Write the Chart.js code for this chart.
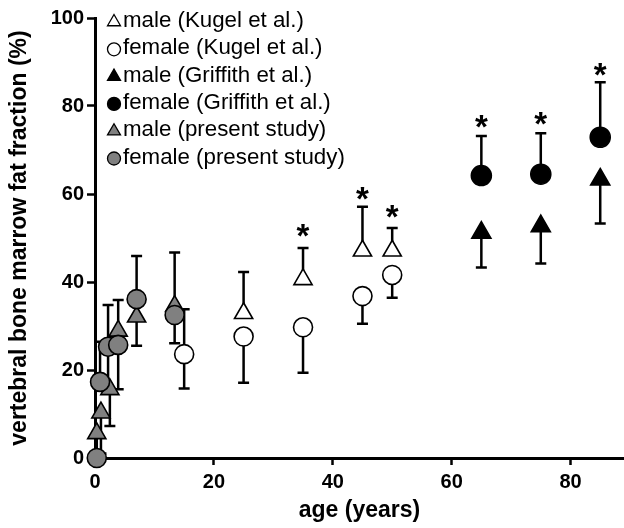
<!DOCTYPE html>
<html>
<head>
<meta charset="utf-8">
<script src="https://cdn.jsdelivr.net/npm/chart.js@4.4.1/dist/chart.umd.min.js"></script>
<style>
  html, body { margin: 0; padding: 0; background: #fff; }
  #wrap { width: 624px; height: 528px; }
</style>
</head>
<body>
<div id="wrap"><canvas id="fatChart" width="624" height="528"></canvas></div>
<script>
// age (years) / fat fraction (%)
const kugelMaleAge = [25, 35, 45, 50];
const kugelMaleFat = [32.9, 40.6, 47.1, 47.1];
const kugelMaleHi  = [42.3, 47.7, 57.1, 52.3];

const kugelFemaleAge = [15, 25, 35, 45, 50];
const kugelFemaleFat = [23.6, 27.6, 29.7, 36.8, 41.6];
const kugelFemaleLo  = [15.8, 17.1, 19.4, 30.5, 36.4];
const kugelFemaleHi  = [33.8, null, null, null, null];

const griffMaleAge = [65, 75, 85];
const griffMaleFat = [51.2, 52.7, 63.3];
const griffMaleLo  = [43.3, 44.2, 53.3];

const griffFemaleAge = [65, 75, 85];
const griffFemaleFat = [64.2, 64.5, 72.9];
const griffFemaleHi  = [73.2, 73.8, 85.4];

const presMaleAge = [0.3, 1.0, 2.5, 3.9, 7.0, 13.4];
const presMaleFat = [5.6, 10.3, 15.6, 28.9, 32.1, 34.5];
const presMaleLo  = [1.0, 1.0, 7.3, null, null, null];
const presMaleHi  = [null, null, null, null, null, 46.7];

const presFemaleAge = [0.3, 0.85, 2.2, 3.9, 7.0, 13.4];
const presFemaleFat = [0, 17.3, 25.3, 25.7, 36.1, 32.5];
const presFemaleLo  = [null, null, 15.8, 15.6, 25.5, 26.1];
const presFemaleHi  = [null, 26.4, 34.8, 35.9, 45.9, null];

// significance markers
const starAge = [35, 45, 50, 65, 75, 85];
const starFat = [51.8, 60.2, 56, 76.4, 77.2, 88.2];

const xTicks = [0, 20, 40, 60, 80];
const yTicks = [0, 20, 40, 60, 80, 100];

const legendLabels = [
    "male (Kugel et al.)",
    "female (Kugel et al.)",
    "male (Griffith et al.)",
    "female (Griffith et al.)",
    "male (present study)",
    "female (present study)"
];

const GREY = "#808080";
const FONT = "'Liberation Sans', Arial, sans-serif";

function makeSet(label, ages, fats, lo, hi, style, fill, radius) {
    return {
        label,
        data: ages.map((a, i) => ({ x: a, y: fats[i] })),
        errLo: lo || [],
        errHi: hi || [],
        pointStyle: style,
        pointRadius: radius,
        pointBackgroundColor: fill,
        pointBorderColor: "#000",
        pointBorderWidth: 1.6,
        showLine: false,
        clip: false
    };
}

// first dataset is painted on top
const datasets = [
    makeSet(legendLabels[5], presFemaleAge, presFemaleFat, presFemaleLo, presFemaleHi, "circle", GREY, 9.5),
    makeSet(legendLabels[4], presMaleAge, presMaleFat, presMaleLo, presMaleHi, "triangle", GREY, 10.5),
    makeSet(legendLabels[3], griffFemaleAge, griffFemaleFat, null, griffFemaleHi, "circle", "#000", 10),
    makeSet(legendLabels[2], griffMaleAge, griffMaleFat, griffMaleLo, null, "triangle", "#000", 11),
    makeSet(legendLabels[1], kugelFemaleAge, kugelFemaleFat, kugelFemaleLo, kugelFemaleHi, "circle", "#fff", 9.5),
    makeSet(legendLabels[0], kugelMaleAge, kugelMaleFat, null, kugelMaleHi, "triangle", "#fff", 10.5)
];

const errorBars = {
    id: "errorBars",
    beforeDatasetsDraw(chart) {
        const { ctx, scales: { x, y } } = chart;
        ctx.save();
        ctx.strokeStyle = "#000";
        ctx.lineWidth = 2.5;
        ctx.lineCap = "butt";
        chart.data.datasets.forEach(ds => {
            ds.data.forEach((p, i) => {
                const px = x.getPixelForValue(p.x);
                const py = y.getPixelForValue(p.y);
                [ds.errLo[i], ds.errHi[i]].forEach(end => {
                    if (end === null || end === undefined) return;
                    const ey = y.getPixelForValue(end);
                    ctx.beginPath();
                    ctx.moveTo(px, py);
                    ctx.lineTo(px, ey);
                    ctx.moveTo(px - 5.5, ey);
                    ctx.lineTo(px + 5.5, ey);
                    ctx.stroke();
                });
            });
        });
        ctx.restore();
    }
};

function drawMarker(ctx, style, fill, cx, cy, r) {
    ctx.beginPath();
    if (style === "circle") {
        ctx.arc(cx, cy, r, 0, Math.PI * 2);
    } else {
        ctx.moveTo(cx, cy - r);
        ctx.lineTo(cx + r * Math.sin(Math.PI * 2 / 3), cy - r * Math.cos(Math.PI * 2 / 3));
        ctx.lineTo(cx - r * Math.sin(Math.PI * 2 / 3), cy - r * Math.cos(Math.PI * 2 / 3));
        ctx.closePath();
    }
    ctx.fillStyle = fill;
    ctx.fill();
    ctx.lineWidth = 1.3;
    ctx.strokeStyle = "#000";
    ctx.stroke();
}

const extras = {
    id: "extras",
    afterDatasetsDraw(chart) {
        const { ctx, scales: { x, y } } = chart;
        ctx.save();

        // asterisks
        ctx.font = "bold 33px " + FONT;
        ctx.fillStyle = "#000";
        ctx.textAlign = "center";
        ctx.textBaseline = "alphabetic";
        const m = ctx.measureText("*");
        const mid = (m.actualBoundingBoxAscent - m.actualBoundingBoxDescent) / 2;
        starAge.forEach((a, i) => {
            ctx.fillText("*", x.getPixelForValue(a), y.getPixelForValue(starFat[i]) + mid);
        });

        // legend
        const styles = ["triangle", "circle", "triangle", "circle", "triangle", "circle"];
        const fills = ["#fff", "#fff", "#000", "#000", GREY, GREY];
        ctx.font = "22.3px " + FONT;
        ctx.textAlign = "left";
        ctx.textBaseline = "middle";
        legendLabels.forEach((t, i) => {
            const ly = 21 + i * 27.3;
            drawMarker(ctx, styles[i], fills[i], 114, ly + 1, styles[i] === "circle" ? 6.5 : 7.5);
            ctx.fillStyle = "#000";
            ctx.fillText(t, 123, ly);
        });
        ctx.restore();
    }
};

new Chart(document.getElementById("fatChart"), {
    type: "scatter",
    data: { datasets },
    options: {
        responsive: false,
        animation: false,
        events: [],
        layout: { autoPadding: false, padding: { top: 18, right: 0, left: 0, bottom: 0 } },
        plugins: { legend: { display: false }, tooltip: { enabled: false } },
        scales: {
            x: {
                type: "linear",
                min: 0,
                max: 89,
                afterFit: s => { s.height = 70; s.paddingLeft = 0; s.paddingRight = 0; },
                afterBuildTicks: s => { s.ticks = xTicks.map(v => ({ value: v })); },
                border: { display: true, color: "#000", width: 3 },
                grid: { drawOnChartArea: false, drawTicks: true, tickLength: 7, tickWidth: 2.5, tickColor: "#000" },
                ticks: { color: "#000", padding: 5, font: { family: FONT, size: 20, weight: "bold" } },
                title: { display: true, text: "age (years)", color: "#000", padding: { top: 0, bottom: 4 },
                         font: { family: FONT, size: 23, weight: "bold" } }
            },
            y: {
                type: "linear",
                min: 0,
                max: 100,
                afterFit: s => { s.width = 95; s.paddingTop = 0; s.paddingBottom = 0; },
                afterBuildTicks: s => { s.ticks = yTicks.map(v => ({ value: v })); },
                border: { display: true, color: "#000", width: 3 },
                grid: { drawOnChartArea: false, drawTicks: true, tickLength: 8, tickWidth: 2.5, tickColor: "#000" },
                ticks: { color: "#000", padding: 3, font: { family: FONT, size: 20, weight: "bold" } },
                title: { display: true, text: "vertebral bone marrow fat fraction (%)", color: "#000",
                         padding: { top: 6, bottom: 0 }, font: { family: FONT, size: 23, weight: "bold" } }
            }
        }
    },
    plugins: [errorBars, extras]
});
</script>
</body>
</html>
